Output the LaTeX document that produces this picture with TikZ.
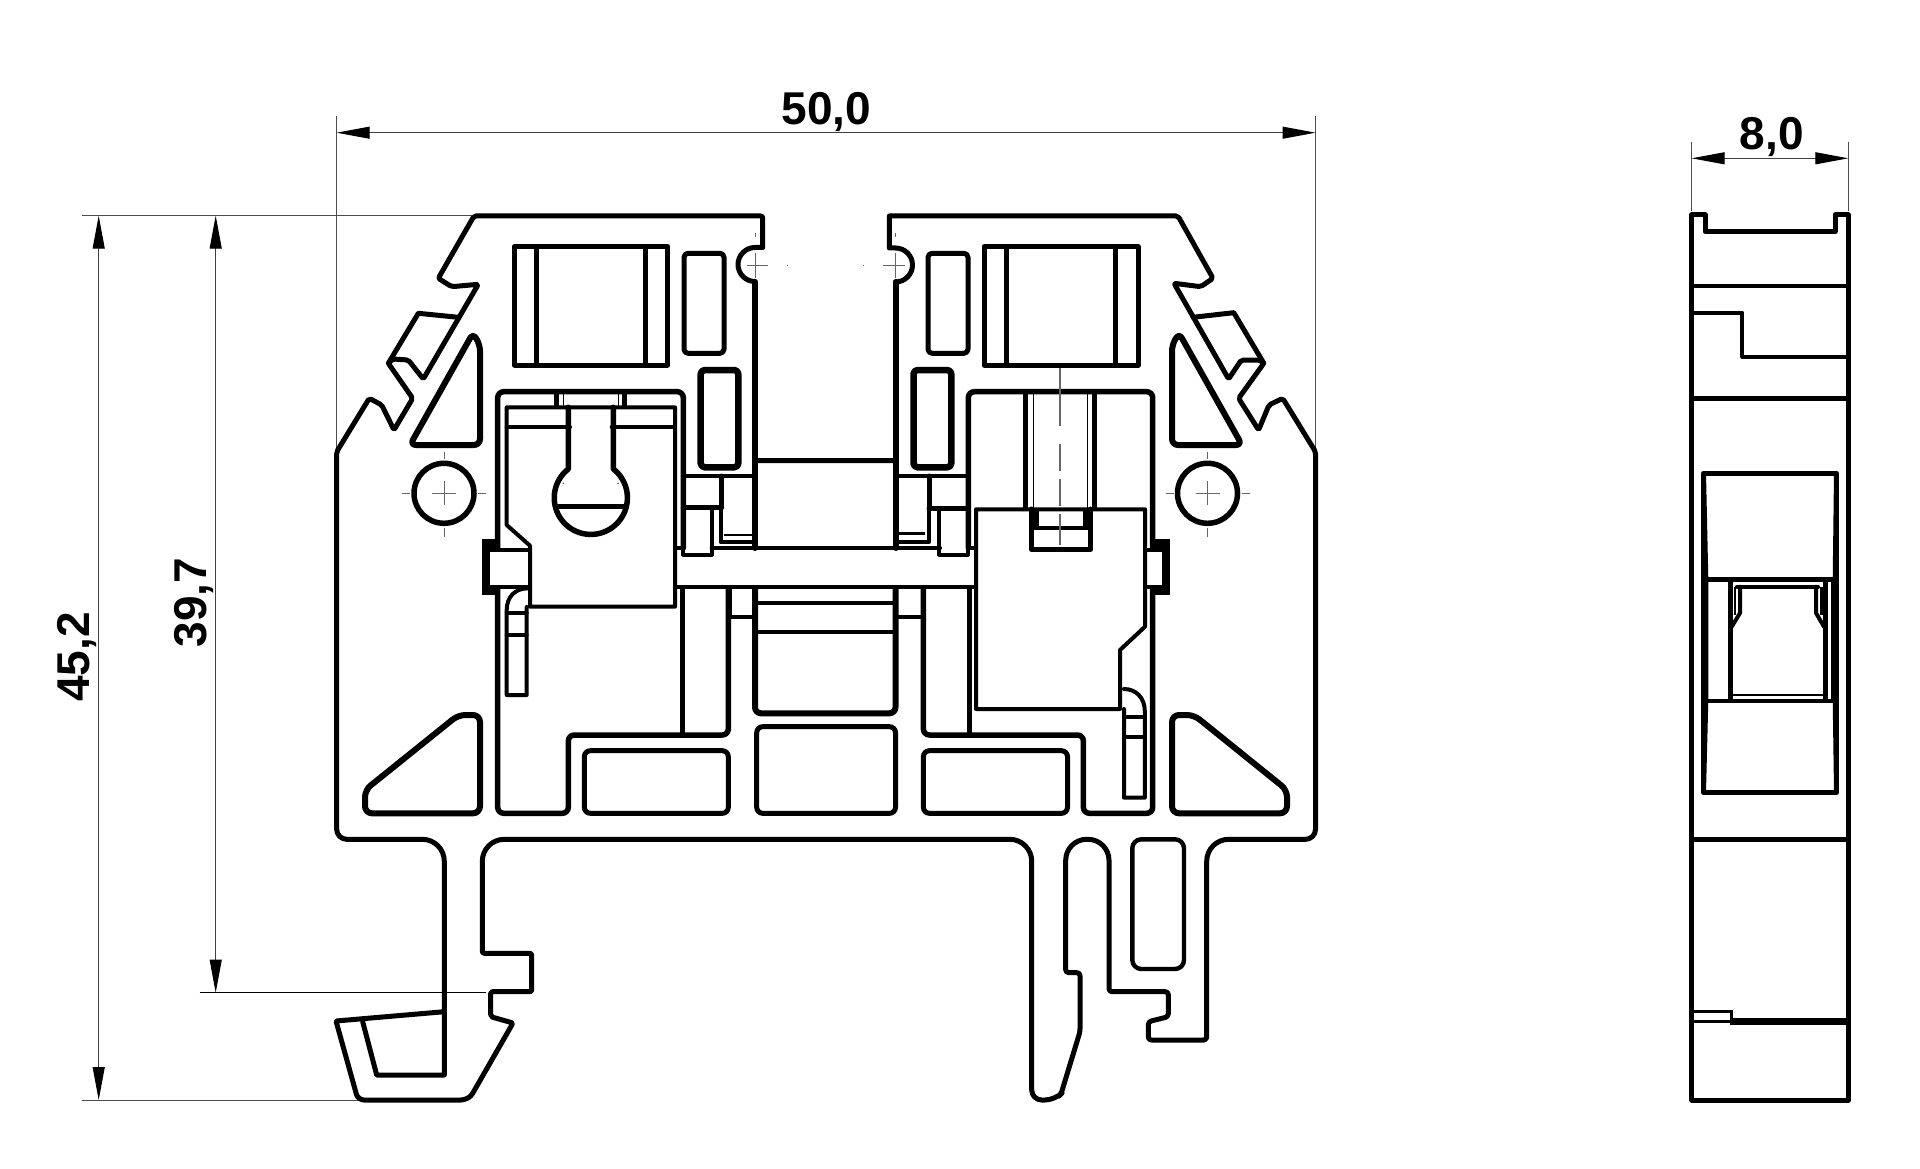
\documentclass[tikz,border=0pt]{standalone}
\usepackage{fontspec}
\setmainfont{Liberation Sans}
\usetikzlibrary{arrows.meta}
\tikzset{
  ln/.style={line width=5pt,black,line join=round,line cap=round},
  hv/.style={line width=6pt,black,line join=round,line cap=round},
  md/.style={line width=4pt,black,line join=round,line cap=round},
  tn/.style={line width=2.2pt,black,line cap=butt},
  ctr/.style={line width=0.9pt,black!60},
  ext/.style={line width=1pt,black!70},
  dimline/.style={line width=1pt,black!75,{Triangle[length=33pt,width=12pt,black]}-{Triangle[length=33pt,width=12pt,black]}},
  dimtxt/.style={font=\fontsize{46}{46}\selectfont\bfseries,inner sep=0pt,anchor=center},
}
\begin{document}
\begin{tikzpicture}[x=1pt,y=-1pt]
\useasboundingbox (0,0) rectangle (1920,1169);
\fill[white] (0,0) rectangle (1920,1169);
% ---- coordinates of dimension lines
\coordinate (extL) at (336.7,116); \coordinate (extLb) at (336.7,452);
\coordinate (extR) at (1315.5,116); \coordinate (extRb) at (1315.5,452);
\coordinate (dW1) at (336.7,132.7); \coordinate (dW2) at (1315.5,132.7);
\coordinate (extT1) at (82,215.7); \coordinate (extT2) at (474,215.7);
\coordinate (extB1) at (82,1100); \coordinate (extB2) at (362,1100);
\coordinate (extM1) at (199.6,992.7); \coordinate (extM2) at (486,992.7);
\coordinate (dA1) at (98.7,215.7); \coordinate (dA2) at (98.7,1100);
\coordinate (dB1) at (215.7,215.7); \coordinate (dB2) at (215.7,992.7);
\coordinate (dC1) at (1691.7,158.3); \coordinate (dC2) at (1848.3,158.3);
\coordinate (eC1) at (1691.7,141.7); \coordinate (eC1b) at (1691.7,210.7);
\coordinate (eC2) at (1848.3,141.7); \coordinate (eC2b) at (1848.3,210.7);
\draw[ext] (extL)--(extLb); \draw[ext] (extR)--(extRb);
\draw[ext] (extT1)--(extT2); \draw[ext] (extB1)--(extB2); \draw[line width=1pt,black] (extM1)--(extM2);
\draw[ext] (eC1)--(eC1b); \draw[ext] (eC2)--(eC2b);
\draw[dimline] (dW1)--(dW2);
\draw[dimline] (dA1)--(dA2);
\draw[dimline] (dB1)--(dB2);
\draw[dimline] (dC1)--(dC2);
\node[dimtxt] (t50) at (826.5,112) {50,0};
\node[dimtxt] (t8) at (1771.7,137) {8,0};
\node[dimtxt,rotate=90] (t45) at (76.5,657) {45,2};
\node[dimtxt,rotate=90] (t39) at (194,602.5) {39,7};
% ---- body outline
\draw[ln,rounded corners=2pt]
 (336.7,600) -- (336.7,451.7) -- (369.3,398.3) -- (381.7,405) -- (394,430) -- (412.7,398.3)
 -- (388.3,363.3) -- (392.7,359) -- (408.3,360) -- (423.3,379) -- (478.3,284.3) -- (451.7,286.7)
 -- (438.3,278.3) -- (474,216) -- (762.7,216) [sharp corners] -- (762.7,247.5) -- (755,247.5)
 arc[start angle=270,end angle=90,radius=17] -- (755,460.7) -- (895.5,460.7) -- (895.5,282)
 arc[start angle=90,end angle=-90,radius=17] -- (889.3,248) -- (889.3,216) [rounded corners=2pt] -- (1178,216)
 -- (1213,278.3) -- (1200.7,286.7) -- (1174,283.3) -- (1228.6,379) -- (1241.3,360) -- (1260.3,360)
 -- (1263.8,363.3) -- (1238.6,398.3) -- (1258.6,430) -- (1269,405) -- (1282.7,398.3) -- (1315.5,451.7)
 [rounded corners=10pt] -- (1315.5,839.3) [rounded corners=22pt] -- (1206.7,839.3)
 [rounded corners=3pt] -- (1206.7,1040) -- (1148.3,1040) -- (1148.3,1021.7) -- (1168.3,1016.7)
 -- (1168.3,991.7) -- (1109,991.7) [rounded corners=21pt] -- (1109,839.3) -- (1065.7,839.3)
 [rounded corners=3pt] -- (1065.7,972.7) -- (1080,972.7) -- (1080,1031.7) -- (1061,1094)
 [rounded corners=10pt] -- (1055,1100) -- (1031.7,1100) [rounded corners=22pt] -- (1031.7,839.3)
 -- (482.3,839.3) [rounded corners=2pt] -- (482.3,953.3) -- (531.7,953.3) -- (531.7,991.7)
 -- (490.7,991.7) -- (490.7,1016.7) -- (513,1023) -- (471.7,1095) [rounded corners=6pt] -- (466.7,1100)
 -- (358,1100) [rounded corners=1pt] -- (336,1021) -- (444.3,1011.7) [rounded corners=22pt]
 -- (444.3,839.3) [rounded corners=10pt] -- (336.7,839.3) -- (336.7,600);
\draw[ln] (444.3,1011.7) -- (444.3,1075) -- (376.7,1075) -- (362.7,1021.7);
\draw[ln] (388.3,363.3) -- (418.3,313.3) -- (458.3,317.3);
\draw[ln] (1263.8,363.3) -- (1233.8,312.7) -- (1193,317.3);
\draw[hv] (755,282) -- (755,460);
\draw[hv] (895.5,282) -- (895.5,460);
% ---- foot slot
\draw[md,line width=4.4pt,rounded corners=9pt] (1132.3,839.3) rectangle (1184,969);
% ---- label windows
\draw[ln] (514.3,246.7) rectangle (667.7,365);
\draw[ln] (536.7,246.7) -- (536.7,365); \draw[ln] (645.7,246.7) -- (645.7,365);
\draw[ln] (984,246.7) rectangle (1138,365);
\draw[ln] (1006,246.7) -- (1006,365); \draw[ln] (1115.5,246.7) -- (1115.5,365);
\draw[ln,rounded corners=4pt] (684,253.3) rectangle (724,353.3);
\draw[ln,rounded corners=4pt] (928,253.3) rectangle (968,353.3);
\draw[hv,line width=6.5pt,rounded corners=4pt] (700.7,370) rectangle (738.3,467.3);
\draw[hv,line width=6.5pt,rounded corners=4pt] (913.5,370) rectangle (951.3,467.3);
% ---- triangles
\draw[hv,rounded corners=6pt] (473,333) -- (480,345) -- (480,445) -- (410,445) -- cycle;
\draw[hv,rounded corners=6pt] (1179,333) -- (1172,345) -- (1172,445) -- (1242,445) -- cycle;
\draw[hv,rounded corners=7pt] (365,813.3) -- (365,790) -- (458.3,715) -- (480,715) -- (480,813.3) -- cycle;
\draw[hv,rounded corners=7pt] (1287,813.3) -- (1287,790) -- (1194,715) -- (1172,715) -- (1172,813.3) -- cycle;
% ---- pin holes
\draw[hv,line width=5.5pt] (444,493.3) circle[radius=30];
\draw[hv,line width=5.5pt] (1207.5,493.3) circle[radius=30];
\foreach \cx in {444,1207.5}{
  \draw[ctr] (\cx-12,493.3) -- (\cx+12,493.3);
  \draw[ctr] (\cx,481.3) -- (\cx,505.3);
  \draw[ctr] (\cx-42,493.3) -- (\cx-34,493.3);
  \draw[ctr] (\cx+34,493.3) -- (\cx+42,493.3);
  \draw[ctr] (\cx,451.7) -- (\cx,459.3);
  \draw[ctr] (\cx,528) -- (\cx,536.7);
}
% ---- notch centre marks
\draw[ctr] (747,265) -- (768,265); \draw[ctr] (755,253) -- (755,278); \draw[ctr] (787,265) -- (788,265); \draw[ctr] (755,233) -- (755,237);
\draw[ctr] (883,265) -- (905,265); \draw[ctr] (895,253) -- (895,278); \draw[ctr] (863,265) -- (864,265); \draw[ctr] (895,233) -- (895,237);
% ---- left chamber frame
\draw[hv,line width=5.5pt,rounded corners=6pt] (683.3,548) -- (683.3,391.7) -- (497.7,391.7) -- (497.7,813.3) -- (568.3,813.3) -- (568.3,735) -- (728.3,735) -- (728.3,588);
\draw[ln] (682.7,588) -- (682.7,733);
% ---- right chamber frame
\draw[hv,line width=5.5pt,rounded corners=6pt] (968.3,548) -- (968.3,391.7) -- (1152.7,391.7) -- (1152.7,813.3) -- (1083.4,813.3) -- (1083.4,735) -- (923.4,735) -- (923.4,588);
\draw[ln] (969,588) -- (969,733);
% ---- conductor bar
\draw[md] (675,548.3) -- (683,548.3); \draw[md] (711.7,548.3) -- (940,548.3); \draw[md] (968,548.3) -- (976,548.3);
\draw[md] (675,587.3) -- (976,587.3);
% ---- centre column
\draw[hv] (755,548) -- (755,460.7);
\draw[hv] (895.5,548) -- (895.5,460.7);
\draw[hv,rounded corners=6pt] (755,588) -- (755,713.3) -- (895.5,713.3) -- (895.5,588);
\draw[md] (755,603) -- (895.5,603); \draw[md] (755,631.7) -- (895.5,631.7);
\draw[ln,rounded corners=6pt] (756.7,726.7) rectangle (895.5,813.3);
\draw[ln,rounded corners=6pt] (584.3,750.7) rectangle (728.3,813.3);
\draw[ln,rounded corners=6pt] (923.4,750.7) rectangle (1067.5,813.3);
% ---- small boxes by the bar, left
\draw[md] (683.3,476) -- (755,476);
\draw[ln] (721.7,476) -- (721.7,507.3);
\draw[hv,line width=5pt] (683.3,507.3) -- (721.7,507.3);
\draw[md] (711.7,507.3) -- (711.7,554.5) -- (683.3,554.5) -- (683.3,507.3);
\draw[md] (720.7,507.3) -- (720.7,542.3) -- (755,542.3);
\draw[tn] (724,535) -- (755,535);
\draw[md] (730,588) -- (730,616.7) -- (753,616.7);
\draw[md] (728.3,588) -- (728.3,600);
% ---- small boxes by the bar, right
\draw[md] (895.5,476) -- (968.3,476);
\draw[ln] (929,476) -- (929,507.3);
\draw[hv,line width=5pt] (929,508.3) -- (968.3,508.3);
\draw[md] (939.3,508.3) -- (939.3,554.5) -- (968.3,554.5) -- (968.3,508.3);
\draw[md] (929,508.3) -- (929,542) -- (895.5,542);
\draw[tn] (895.5,533.5) -- (925,533.5);
\draw[md] (899,616.7) -- (921.7,616.7);
% ---- left terminal block
\fill[white] (500,550) rectangle (530,585);
\fill[black] (481.7,539.3) rectangle (497,595);
\fill[white] (490,550) rectangle (530,585);
\draw[md] (490,550) -- (530,550); \draw[md] (490,586.7) -- (530,586.7);
\draw[md] (506.7,407.3) -- (675,407.3) -- (675,606.7) -- (530,606.7) -- (530,545.7) -- (506.7,525) -- cycle;
\draw[md] (506.7,427.3) -- (570,427.3); \draw[md] (611.7,427.3) -- (675,427.3);
\draw[hv,line width=5.5pt] (568.3,407.3) -- (568.3,469) arc[start angle=232,end angle=-52,radius=36.6] -- (613.3,407.3);
\draw[ln,line cap=butt] (556,506) -- (625.5,506);
\draw[ln,line cap=butt] (556.3,391.7) -- (556.3,407); \draw[tn,line width=1.5pt] (563.3,391.7) -- (563.3,407);
\draw[ln,line cap=butt] (624.5,391.7) -- (624.5,407); \draw[tn,line width=1.5pt] (618.3,391.7) -- (618.3,407);
\fill[black!70] (563.3,483.3) circle[radius=.8]; \fill[black!70] (618,483.3) circle[radius=.8];
% left spring
\draw[md] (528,588.3) .. controls (515,588.3) and (506.7,597) .. (506.7,610) -- (506.7,695) -- (526.7,695) -- (526.7,607);
\draw[md] (506.7,613.3) -- (526.7,613.3); \draw[md] (506.7,635) -- (526.7,635);
% ---- right terminal block
\fill[white] (1146,550) rectangle (1162,585);
\fill[black] (1155,539.3) rectangle (1170,595);
\fill[white] (1147,550) rectangle (1162,585);
\draw[md] (1145,550) -- (1162,550); \draw[md] (1145,586.7) -- (1162,586.7);
\draw[md] (976,509.3) -- (1145,509.3) -- (1145,626.7) -- (1120,650) -- (1120,709) -- (976,709) -- cycle;
\draw[ln,line cap=butt] (1025.7,391.7) -- (1025.7,509); \draw[ln,line cap=butt] (1094.3,391.7) -- (1094.3,509);
\draw[tn,line width=1.5pt] (1033.3,391.7) -- (1033.3,509); \draw[tn,line width=1.5pt] (1087.3,391.7) -- (1087.3,509);
\draw[ln] (1031.7,509) -- (1031.7,549.3) -- (1090.7,549.3) -- (1090.7,509);
\draw[ln,line cap=butt] (1036,509) -- (1036,528.3); \draw[ln,line cap=butt] (1085,509) -- (1085,528.3);
\draw[md] (1031.7,528.3) -- (1090.7,528.3);
\draw[ctr,line width=1.2pt,dash pattern=on 58pt off 18pt on 27pt off 8pt on 27pt off 8pt] (1060,368) -- (1060,545);
% right spring
\draw[md] (1124,689) .. controls (1136,689) and (1144.8,698) .. (1144.8,711) -- (1144.8,797.7) -- (1124,797.7) -- (1124,709);
\draw[md] (1124,716.7) -- (1144.8,716.7); \draw[md] (1124,736.7) -- (1144.8,736.7);
% ---- side view
\draw[ln] (1691.7,1100) -- (1691.7,215) -- (1705,215) -- (1705,231.7) -- (1835,231.7) -- (1835,215) -- (1848.3,215) -- (1848.3,1100) -- cycle;
\draw[md] (1691.7,285.7) -- (1848.3,285.7);
\draw[md] (1691.7,312.7) -- (1742.3,312.7) -- (1742.3,356.7) -- (1848.3,356.7);
\draw[ln] (1691.7,398.3) -- (1848.3,398.3);
\draw[ln] (1691.7,839.3) -- (1848.3,839.3);
\draw[line width=4.5pt,black,line join=round] (1703.3,473.3) rectangle (1836.7,792.7);
\fill[black] (1703,473) -- (1706,473) -- (1708.3,579) -- (1708.3,700) -- (1706,792) -- (1703,792) -- cycle;
\fill[black] (1837,473) -- (1834,473) -- (1832.7,579) -- (1832.7,700) -- (1834,792) -- (1837,792) -- cycle;
\draw[ln,line cap=butt] (1703.3,579.3) -- (1836.7,579.3);
\draw[md,line cap=butt] (1703.3,700.7) -- (1836.7,700.7);
\draw[hv,line width=5pt,line cap=butt] (1730,579.3) -- (1730,702); \draw[hv,line width=5pt,line cap=butt] (1825.7,579.3) -- (1825.7,702);
\draw[md] (1737,586.7) -- (1818,586.7);
\draw[tn] (1731,695) -- (1825,695);
\draw[md] (1740,586.7) -- (1740,613) -- (1731.7,626.7);
\draw[md] (1816,586.7) -- (1816,613) -- (1824,626.7);
\draw[tn] (1734.7,586.7) -- (1734.7,615); \draw[tn] (1821.5,586.7) -- (1821.5,615);
\draw[tn,line width=1.2pt] (1832,579.3) -- (1832,700);
\draw[line width=3pt,black] (1691.7,1011.7) -- (1731.7,1011.7) -- (1731.7,1021) -- (1691.7,1021);
\draw[line width=7pt,black,line cap=butt] (1730,1021) -- (1848.3,1021);
\end{tikzpicture}
\end{document}
